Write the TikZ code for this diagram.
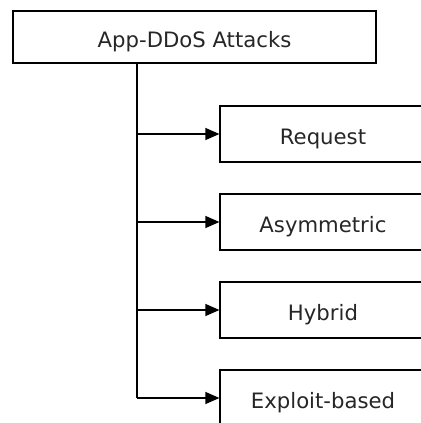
\documentclass[tikz,border=0pt]{standalone}
\usepackage{fontspec}
\setmainfont{DejaVu Sans}
\usepackage{tikz}
\usetikzlibrary{arrows.meta,positioning}

\begin{document}
\begin{tikzpicture}[x=0.5pt, y=-0.5pt, font=\fontsize{10.6}{12}\selectfont, >={Triangle[length=7pt,width=6pt]},
    box/.style={draw, line width=0.6pt, rectangle, inner sep=0pt, text=black!85, text height=10.7pt, text depth=0pt},
    rootbox/.style={box, minimum width=181.5pt, minimum height=26pt},
    leafbox/.style={box, minimum width=103pt, minimum height=28pt},
    link/.style={line width=0.6pt}]
    % Canvas (children run past the right edge)
    \useasboundingbox (0,0) rectangle (421,423);
    \clip (0,0) rectangle (421,423);
    \fill[white] (0,0) rectangle (421,423);

    % Root and categories
    \node[rootbox] (root) at (194.5,37) {App-DDoS Attacks};
    \node[leafbox] (request) at (323,134) {Request};
    \node[leafbox] (asym) at (323,222) {Asymmetric};
    \node[leafbox] (hybrid) at (323,310) {Hybrid};
    \node[leafbox] (exploit) at (323,398) {Exploit-based};

    % Trunk and branches
    \coordinate (trunk) at (137,0);
    \draw[link] (root.south -| trunk) -- (trunk |- exploit.west);
    \foreach \leaf in {request,asym,hybrid,exploit}
        \draw[link, ->] (trunk |- \leaf.west) -- (\leaf.west);
\end{tikzpicture}
\end{document}
